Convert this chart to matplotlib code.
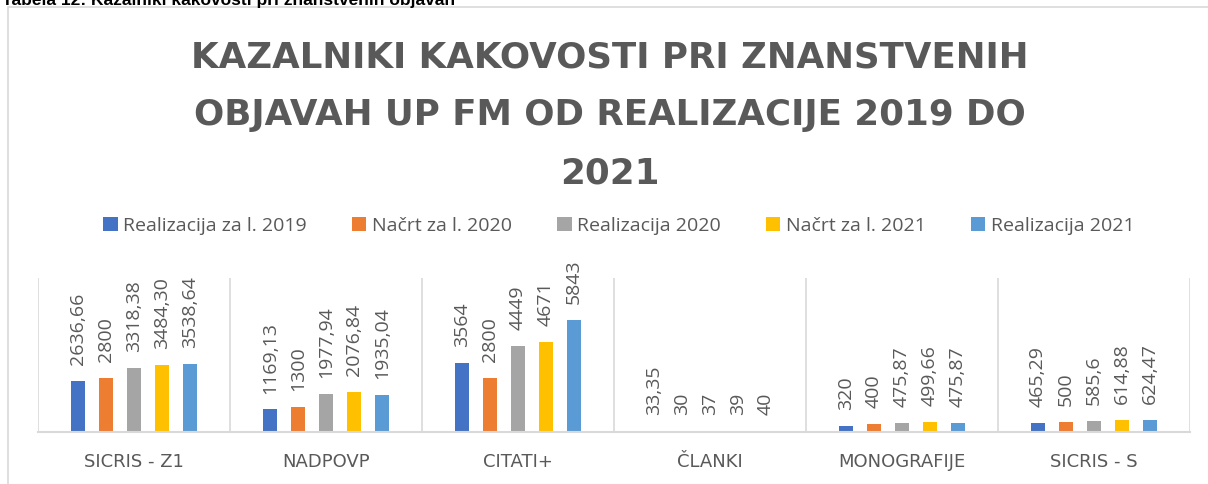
import matplotlib.pyplot as plt
from matplotlib.patches import Rectangle
import numpy as np

categories = ["SICRIS - Z1", "NADPOVP", "CITATI+", "ČLANKI", "MONOGRAFIJE", "SICRIS - S"]
series_names = ["Realizacija za l. 2019", "Načrt za l. 2020", "Realizacija 2020",
                "Načrt za l. 2021", "Realizacija 2021"]

# values as printed on the chart (Slovenian decimal comma)
real_2019 = ["2636,66", "1169,13", "3564", "33,35", "320", "465,29"]
nacrt_2020 = ["2800", "1300", "2800", "30", "400", "500"]
real_2020 = ["3318,38", "1977,94", "4449", "37", "475,87", "585,6"]
nacrt_2021 = ["3484,30", "2076,84", "4671", "39", "499,66", "614,88"]
real_2021 = ["3538,64", "1935,04", "5843", "40", "475,87", "624,47"]

colors = ["#4472C4", "#ED7D31", "#A5A5A5", "#FFC000", "#5B9BD5"]
grey = "#595959"
line_grey = "#D9D9D9"
font = "Open Sans"


def to_num(labels):
    return [float(s.replace(",", ".")) for s in labels]


fig = plt.figure(figsize=(12.08, 4.84), dpi=100)
ax = fig.add_axes([38 / 1208, 1 - 432 / 484, 1152 / 1208, 154 / 484])

# chart border (runs past right/bottom edge like the cropped screenshot)
fig.patches.append(Rectangle((8 / 1208, -0.2), 1.2, 1.2 - 7 / 484,
                             transform=fig.transFigure, fill=False,
                             edgecolor=line_grey, lw=1.2))

# caption above the chart, cut off by the top edge in the original
fig.text(2 / 1208, 1 - 5 / 484, "Tabela 12: Kazalniki kakovosti pri znanstvenih objavah",
         family="Liberation Sans", weight="bold", fontsize=12.5, color="black",
         ha="left", va="baseline")

title_lines = ["KAZALNIKI KAKOVOSTI PRI ZNANSTVENIH",
               "OBJAVAH UP FM OD REALIZACIJE 2019 DO",
               "2021"]
for i, line in enumerate(title_lines):
    fig.text(610 / 1208, 1 - (68 + 57.5 * i) / 484, line, family="DejaVu Sans",
             weight="bold", fontsize=25.7, color=grey, ha="center", va="baseline")

x = np.arange(len(categories))
spacing = 28 / 192
width = 14 / 192
all_series = [real_2019, nacrt_2020, real_2020, nacrt_2021, real_2021]
handles = []
for i, (labels, name) in enumerate(zip(all_series, series_names)):
    bars = ax.bar(x + (i - 2) * spacing, to_num(labels), width, color=colors[i], label=name)
    ax.bar_label(bars, labels=labels, rotation=90, padding=11.5, color=grey,
                 family=font, fontsize=14)
    handles.append(bars)

ax.set_xlim(-0.5, len(categories) - 0.5)
ax.set_ylim(0, 8000)
ax.vlines(np.arange(len(categories) + 1) - 0.5, 0, 8000, color=line_grey, lw=1.2)
for s in ["left", "right", "top"]:
    ax.spines[s].set_visible(False)
ax.spines["bottom"].set_color(line_grey)
ax.spines["bottom"].set_linewidth(1.5)
ax.set_yticks([])
ax.set_xticks(x)
ax.set_xticklabels(categories, family="DejaVu Sans", fontsize=13, color=grey)
ax.tick_params(axis="x", length=0, pad=15)

fig.legend(handles=handles, loc="center", bbox_to_anchor=(619 / 1208, 1 - 226 / 484),
           ncol=5, frameon=False, handlelength=0.75, handleheight=0.75,
           handletextpad=0.3, columnspacing=2.3,
           prop={"family": font, "size": 14}, labelcolor=grey)

fig.savefig("out.png", dpi=100)
